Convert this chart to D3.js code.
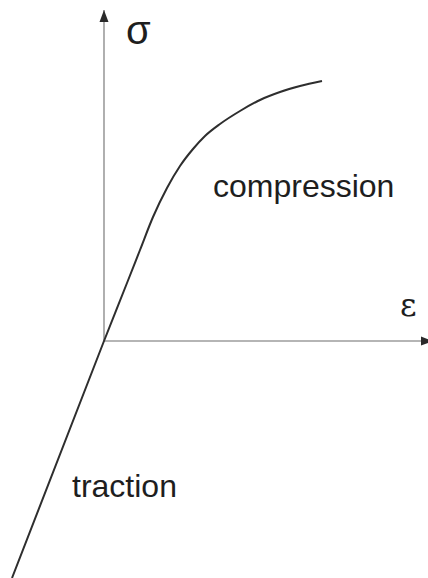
<!DOCTYPE html>
<html>
<head>
<meta charset="utf-8">
<script src="https://cdn.jsdelivr.net/npm/d3@7"></script>
<style>
  html, body { margin: 0; padding: 0; background: #fff; overflow: hidden; }
  svg { display: block; }
</style>
</head>
<body>
<script>
// Stress–strain curve: straight line in traction (negative side),
// linear then softening curve in compression.
const strain = [-0.92, 0, 0.23, 0.36, 0.49, 0.63, 0.76, 0.89, 1.01, 1.16, 1.36, 1.56, 1.76, 1.96, 2.18];
const stress = [-2.37, 0, 0.58, 0.91, 1.24, 1.53, 1.75, 1.92, 2.05, 2.17, 2.30, 2.41, 2.49, 2.55, 2.60];
const axisNames = ["ε", "σ"];
const regionNames = ["compression", "traction"];

const W = 428, H = 578;
const x = d3.scaleLinear().domain([-1.04, 3.24]).range([0, W]);
const y = d3.scaleLinear().domain([3.41, -2.37]).range([0, H]);

const svg = d3.select("body").append("svg")
  .attr("width", W).attr("height", H);

const defs = svg.append("defs");
defs.append("marker")
  .attr("id", "arrow")
  .attr("markerUnits", "userSpaceOnUse")
  .attr("viewBox", "0 0 12 10")
  .attr("refX", 12).attr("refY", 5)
  .attr("markerWidth", 12).attr("markerHeight", 10)
  .attr("orient", "auto")
  .append("path")
  .attr("d", "M0,0.5 L12,5 L0,9.5 Z")
  .attr("fill", "#2a2a2a");

// axes
const axisColor = "#9c9c9c";
svg.append("line")
  .attr("x1", x(0)).attr("y1", y(0))
  .attr("x2", x(3.29)).attr("y2", y(0))
  .attr("stroke", axisColor).attr("stroke-width", 1.6)
  .attr("marker-end", "url(#arrow)");
svg.append("line")
  .attr("x1", x(0)).attr("y1", y(0))
  .attr("x2", x(0)).attr("y2", y(3.31))
  .attr("stroke", axisColor).attr("stroke-width", 1.6)
  .attr("marker-end", "url(#arrow)");

// curve
const pts = strain.map((e, i) => [e, stress[i]]);
const line = d3.line()
  .x(d => x(d[0]))
  .y(d => y(d[1]))
  .curve(d3.curveMonotoneX);
svg.append("path")
  .datum(pts)
  .attr("d", line)
  .attr("fill", "none")
  .attr("stroke", "#2e2e2e")
  .attr("stroke-width", 2);

// labels
const font = "'Liberation Sans', Arial, sans-serif";
svg.append("text")
  .attr("x", x(2.96)).attr("y", y(0.25))
  .attr("font-family", "'DejaVu Serif', serif")
  .attr("font-size", 32)
  .attr("fill", "#1e1e1e")
  .text(axisNames[0]);
svg.append("text")
  .attr("x", x(0.22)).attr("y", y(2.97))
  .attr("font-family", font)
  .attr("font-size", 40)
  .attr("fill", "#1e1e1e")
  .text(axisNames[1]);
svg.append("text")
  .attr("x", x(1.09)).attr("y", y(1.44))
  .attr("font-family", font)
  .attr("font-size", 32)
  .attr("fill", "#1e1e1e")
  .text(regionNames[0]);
svg.append("text")
  .attr("x", x(-0.32)).attr("y", y(-1.56))
  .attr("font-family", font)
  .attr("font-size", 32)
  .attr("fill", "#1e1e1e")
  .text(regionNames[1]);
</script>
</body>
</html>
